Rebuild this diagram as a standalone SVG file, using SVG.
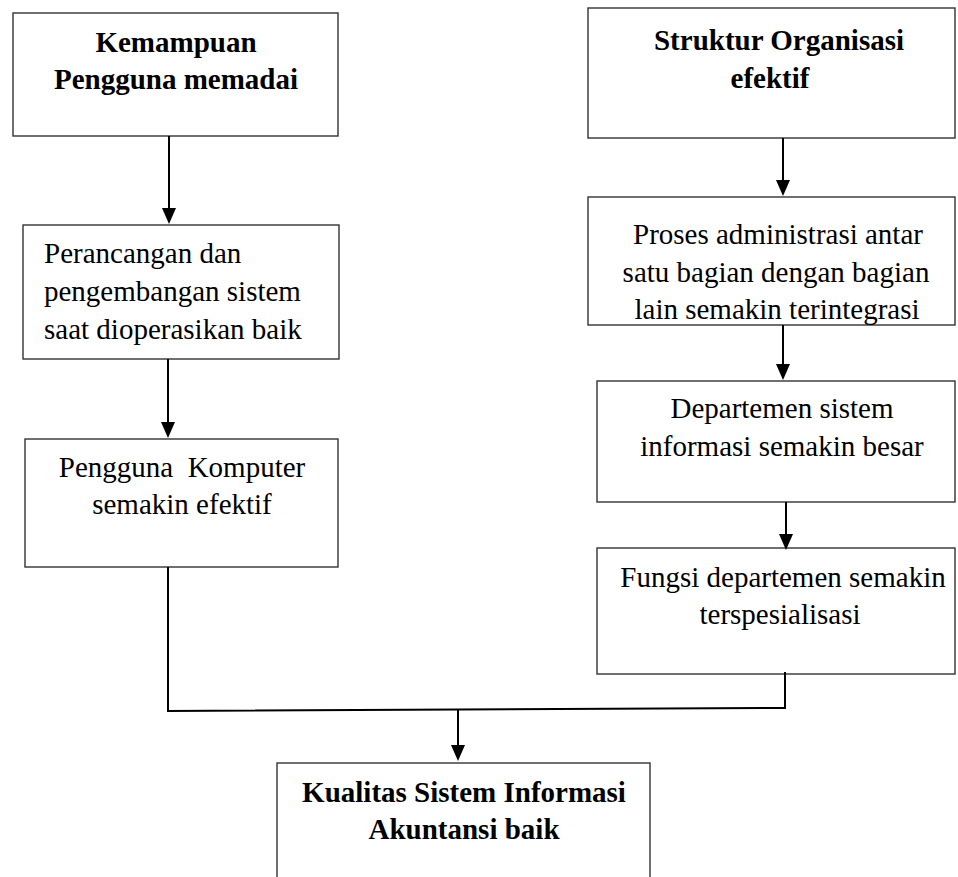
<svg xmlns="http://www.w3.org/2000/svg" width="958" height="877" viewBox="0 0 958 877">
<style>
.box{fill:#fff;stroke:#333;stroke-width:1.4}
.t{font-family:"Liberation Serif","Times New Roman",serif;font-size:29px;fill:#000}
.b{font-weight:bold}
.c{text-anchor:middle}
.con{fill:none;stroke:#000;stroke-width:2}
</style>
<defs>
<marker id="ah" viewBox="0 0 16 14" refX="6" refY="7" markerWidth="16" markerHeight="14" markerUnits="userSpaceOnUse" orient="auto">
<path d="M0,0 L16,7 L0,14 Z" fill="#000"/>
</marker>
</defs>
<rect width="958" height="877" fill="#fff"/>
<g id="n1">
<rect class="box" x="13" y="13" width="325" height="123"/>
<text class="t b c" x="176" y="52">Kemampuan</text>
<text class="t b c" x="176" y="89">Pengguna memadai</text>
</g>
<g id="n2">
<rect class="box" x="23" y="225" width="316" height="134"/>
<text class="t" x="44" y="263">Perancangan dan</text>
<text class="t" x="44" y="301">pengembangan sistem</text>
<text class="t" x="44" y="339">saat dioperasikan baik</text>
</g>
<g id="n3">
<rect class="box" x="25" y="439" width="313" height="128"/>
<text class="t c" x="182" y="477" xml:space="preserve">Pengguna  Komputer</text>
<text class="t c" x="182" y="514">semakin efektif</text>
</g>
<g id="nA">
<rect class="box" x="588" y="8" width="367" height="130"/>
<text class="t b c" x="779" y="50">Struktur Organisasi</text>
<text class="t b c" x="770" y="88">efektif</text>
</g>
<g id="nB">
<rect class="box" x="588" y="197" width="367" height="128"/>
<text class="t c" x="778" y="244">Proses administrasi antar</text>
<text class="t c" x="776" y="282">satu bagian dengan bagian</text>
<text class="t c" x="777" y="319">lain semakin terintegrasi</text>
</g>
<g id="nC">
<rect class="box" x="597" y="381" width="358" height="121"/>
<text class="t c" x="782" y="418">Departemen sistem</text>
<text class="t c" x="782" y="456">informasi semakin besar</text>
</g>
<g id="nD">
<rect class="box" x="597" y="548" width="358" height="126"/>
<text class="t c" x="783" y="587">Fungsi departemen semakin</text>
<text class="t c" x="780" y="624">terspesialisasi</text>
</g>
<g id="nE">
<rect class="box" x="277" y="763" width="373" height="130"/>
<text class="t b c" x="464" y="802">Kualitas Sistem Informasi</text>
<text class="t b c" x="464" y="839">Akuntansi baik</text>
</g>
<g id="connectors">
<line class="con" x1="169" y1="136" x2="169" y2="214" marker-end="url(#ah)"/>
<line class="con" x1="168" y1="359" x2="168" y2="428" marker-end="url(#ah)"/>
<line class="con" x1="783" y1="138" x2="783" y2="186" marker-end="url(#ah)"/>
<line class="con" x1="783" y1="325" x2="783" y2="370" marker-end="url(#ah)"/>
<line class="con" x1="786" y1="502" x2="786" y2="540" marker-end="url(#ah)"/>
<polyline class="con" points="168,567 168,711 785,708 785,672"/>
<line class="con" x1="458" y1="710" x2="458" y2="751" marker-end="url(#ah)"/>
</g>
</svg>
